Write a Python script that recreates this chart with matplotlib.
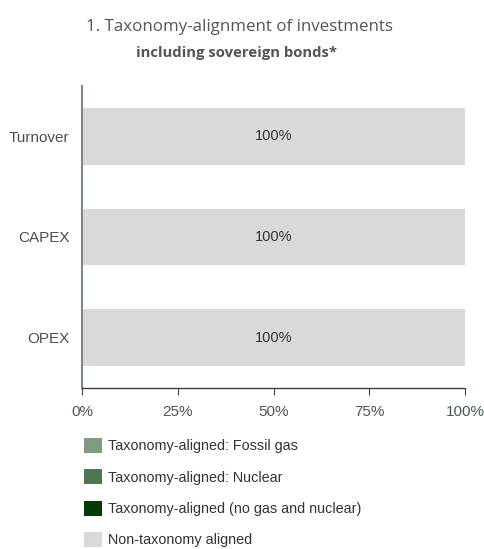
import numpy as np
import matplotlib
matplotlib.use('Agg')
import matplotlib.pyplot as plt
from matplotlib.patches import Patch

categories = ['Turnover', 'CAPEX', 'OPEX']
fossil_gas = [0, 0, 0]
nuclear = [0, 0, 0]
aligned_other = [0, 0, 0]
non_aligned = [100, 100, 100]
xticks = [0, 25, 50, 75, 100]

series_names = ['Taxonomy-aligned: Fossil gas', 'Taxonomy-aligned: Nuclear',
                'Taxonomy-aligned (no gas and nuclear)', 'Non-taxonomy aligned']
colors = ['#819b82', '#4f7552', '#033a08', '#d9d9d9']

plt.rcParams['font.family'] = ['Liberation Sans', 'DejaVu Sans']

fig = plt.figure(figsize=(4.84, 5.49), dpi=100)
ax = fig.add_axes([82/484, 1-388/549, (465-82)/484, (388-86)/549])

y = np.arange(len(categories))
left = np.zeros(len(categories))
for vals, c in zip([fossil_gas, nuclear, aligned_other, non_aligned], colors):
    vals = np.array(vals, dtype=float)
    ax.barh(y, vals, left=left, height=0.56, color=c)
    left += vals

for yi, v in zip(y, non_aligned):
    ax.text(50, yi, str(v) + '%', ha='center', va='center', fontsize=10.5, color='#333333')

ax.set_ylim(2.5, -0.5)
ax.set_xlim(0, 100)
ax.set_yticks(y)
ax.set_yticklabels(categories, fontsize=11, color='#4a4f4a')
ax.tick_params(axis='y', length=0, pad=9)
ax.set_xticks(xticks)
ax.set_xticklabels([str(t) + '%' for t in xticks], fontsize=11, color='#4a5a4a')
ax.tick_params(axis='x', length=5, color='#2f4a35', pad=7)
for s in ['top', 'right']:
    ax.spines[s].set_visible(False)
ax.spines['left'].set_color('#7d8b7f')
ax.spines['left'].set_linewidth(1.5)
ax.spines['bottom'].set_color('#2f4a35')
ax.spines['bottom'].set_linewidth(1.0)

fig.text(240/484, 1-27/549, '1. Taxonomy-alignment of investments', ha='center', va='center',
         fontsize=12.2, color='#555555', family=['Open Sans', 'DejaVu Sans'])
fig.text(237/484, 1-53/549, 'including sovereign bonds*', ha='center', va='center',
         fontsize=10.7, color='#555555', fontweight='bold', family=['Open Sans', 'DejaVu Sans'])

handles = [Patch(facecolor=c, edgecolor='none') for c in colors]
fig.legend(handles, series_names, loc='upper left', bbox_to_anchor=(78/484, 1-432/549),
           frameon=False, fontsize=10.4, labelcolor='#333333', handlelength=1.25,
           handleheight=1.25, handletextpad=0.45, labelspacing=1.1, borderaxespad=0)

fig.savefig('out.png', dpi=100)
